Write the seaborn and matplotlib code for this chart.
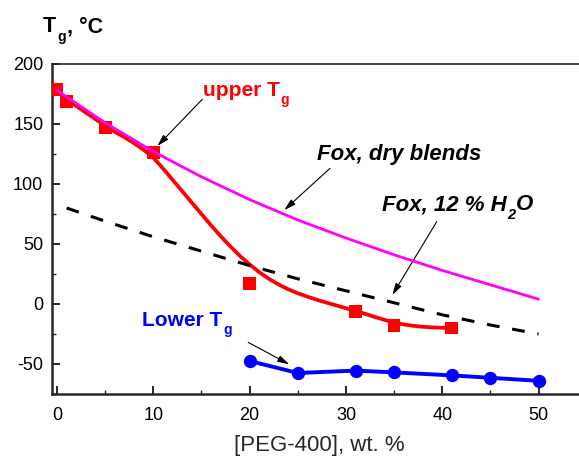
import matplotlib
matplotlib.use("Agg")
import matplotlib.pyplot as plt
from matplotlib.ticker import MultipleLocator
import seaborn as sns

# Measured glass transitions: upper (PEG-poor phase) and lower (PEG-rich phase)
peg_upper = [0, 1, 5, 10, 20, 31, 35, 41]
tg_upper = [179, 169, 147, 126, 17, -6, -18, -20]

peg_lower = [20, 25, 31, 35, 41, 45, 50]
tg_lower = [-47.5, -57.5, -55.5, -57, -59.5, -61.5, -64]

# Smooth guide curve through the upper Tg data
peg_fit = [0, 1, 2, 3, 4, 5, 6, 7, 8, 9, 10, 11, 12, 13, 14, 15, 16, 17,
           18, 19, 20, 21, 22, 23, 24, 25, 26, 27, 28, 29, 30, 31, 32, 33,
           34, 35, 36, 37, 38, 39, 40, 41]
tg_fit = [177, 171, 165, 159.5, 154, 148.5, 143.5, 139, 134, 128.5, 122,
          113, 103.5, 94, 84.5, 75, 65.5, 56.5, 48, 40, 33, 26.5, 21, 16.3,
          12.3, 9, 6.1, 3.5, 1.1, -1.2, -3.5, -5.8, -8.2, -10.8, -13.2,
          -15.5, -17, -18.2, -19, -19.5, -19.8, -20]

# Fox equation predictions
peg_fox_dry = [0, 5, 10, 15, 20, 25, 30, 35, 40, 45, 50]
tg_fox_dry = [178, 151, 127, 106, 87, 70, 55, 41, 28, 16, 4]

peg_fox_wet = [1, 5, 10, 15, 20, 25, 30, 35, 40, 45, 50]
tg_fox_wet = [80, 69, 56, 44, 32, 21, 11, 1, -9, -17.5, -25]

sns.set_style("ticks")
plt.rcParams["font.family"] = ["Liberation Sans", "DejaVu Sans"]
plt.rcParams["axes.unicode_minus"] = False

fig = plt.figure(figsize=(5.79, 4.58), dpi=100)
ax = fig.add_axes([51.7 / 579, 64 / 458, 535 / 579, 330 / 458])

RED, BLUE, MAGENTA = "#ff0000", "#0000ff", "#ff00ff"

sns.lineplot(x=peg_fit, y=tg_fit, ax=ax, color=RED, lw=2.7,
             estimator=None, sort=False, zorder=3)
sns.scatterplot(x=peg_upper, y=tg_upper, ax=ax, color=RED, marker="s",
                s=85, edgecolor="none", linewidth=0, zorder=4)
sns.lineplot(x=peg_lower, y=tg_lower, ax=ax, color=BLUE, lw=2.8,
             marker="o", markersize=9.6, markeredgewidth=0,
             estimator=None, sort=False, zorder=4)
sns.lineplot(x=peg_fox_wet, y=tg_fox_wet, ax=ax, color="black", lw=2.2,
             estimator=None, sort=False, zorder=5)
ax.lines[-1].set_dashes((4.2, 4.2))
sns.lineplot(x=peg_fox_dry, y=tg_fox_dry, ax=ax, color=MAGENTA, lw=2.0,
             estimator=None, sort=False, zorder=6)

ax.set_xlim(-0.55, 55)
ax.set_ylim(-75, 200)
ax.xaxis.set_major_locator(MultipleLocator(10))
ax.xaxis.set_minor_locator(MultipleLocator(5))
ax.yaxis.set_minor_locator(MultipleLocator(25))
ax.set_yticks([-50, 0, 50, 100, 150, 200])
ax.tick_params(which="major", direction="in", length=6, width=1.2,
               labelsize=13, colors="black")
ax.tick_params(axis="y", which="major", pad=6)
ax.tick_params(axis="x", which="major", pad=9)
ax.tick_params(which="minor", direction="in", length=3, width=1.0)
for side in ("left", "bottom"):
    ax.spines[side].set_linewidth(1.8)
ax.spines["top"].set_linewidth(1.2)
ax.spines["right"].set_visible(False)

ax.set_xlabel("[PEG-400], wt. %", fontsize=16, labelpad=8)
ax.set_ylabel("")


def subscripted(x, y, main, sub, tail="", coords="data", size=15,
                sub_size=10, drop=6.0, **style):
    """Write main text, a lowered subscript after it, then optional tail."""
    head = ax.annotate(main, xy=(x, y), xycoords=coords, fontsize=size,
                       ha="left", va="baseline", annotation_clip=False,
                       **style)
    low = ax.annotate(sub, xy=(1, y), xycoords=(head, coords),
                      xytext=(0.8, -drop), textcoords="offset points",
                      fontsize=sub_size, ha="left", va="baseline",
                      annotation_clip=False, **style)
    if tail:
        ax.annotate(tail, xy=(1, y), xycoords=(low, coords),
                    xytext=(0.6, 0), textcoords="offset points",
                    fontsize=size, ha="left", va="baseline",
                    annotation_clip=False, **style)


bold = dict(fontweight="bold")
bold_it = dict(fontweight="bold", fontstyle="italic")

subscripted(43, 458 - 32.5, "T", "g", ", °C", coords="figure pixels",
            size=15.5, **bold, color="black")
subscripted(15.13, 173.6, "upper T", "g", size=15, color=RED, **bold)
ax.text(26.97, 120, "Fox, dry blends", color="black", fontsize=16,
        ha="left", va="baseline", **bold_it)
subscripted(33.7, 78.3, "Fox, 12 % H", "2", "O", size=16, sub_size=10.5,
            drop=6.5, color="black", **bold_it)
subscripted(8.8, -18, "Lower T", "g", size=15, color=BLUE, **bold)

arrow = dict(arrowstyle="-|>,head_length=0.7,head_width=0.2",
             color="black", lw=0.8, shrinkA=0, shrinkB=0)
ax.annotate("", xy=(10.42, 131.7), xytext=(15.09, 170.6), arrowprops=arrow)
ax.annotate("", xy=(23.6, 78.3), xytext=(28.35, 113.1), arrowprops=arrow)
ax.annotate("", xy=(34.82, 7.5), xytext=(39.43, 68.6), arrowprops=arrow)
ax.annotate("", xy=(24.12, -50.3), xytext=(19.86, -32), arrowprops=arrow)

fig.savefig("out.png", dpi=100)
